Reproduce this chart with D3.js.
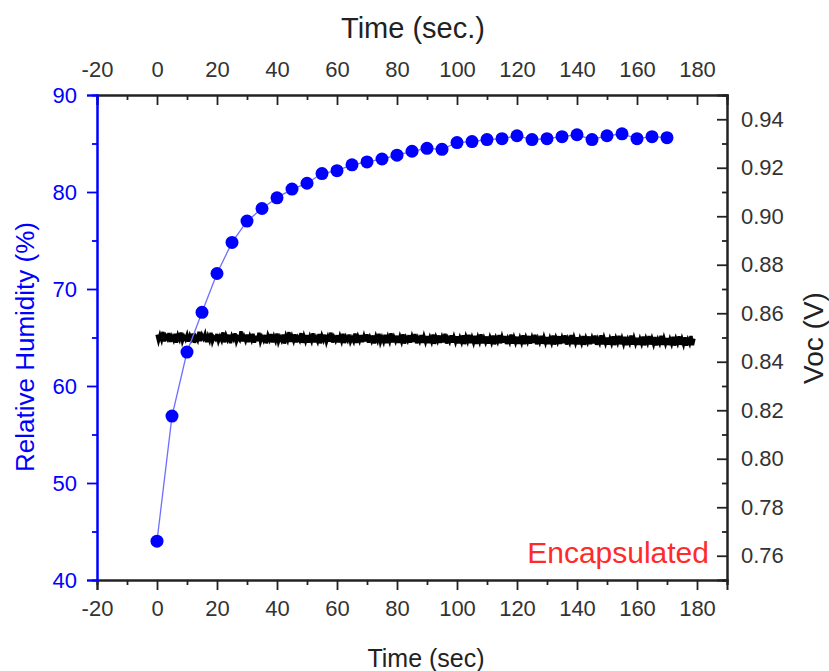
<!DOCTYPE html>
<html>
<head>
<meta charset="utf-8">
<script src="https://cdn.jsdelivr.net/npm/d3@7"></script>
<style>
  body { margin: 0; background: #fff; }
  text { font-family: "Liberation Sans", Arial, sans-serif; }
</style>
</head>
<body>
<div id="mount"></div>
<script>
// humidity readings, one every 5 s
var rhTime = [0, 5, 10, 15, 20, 25, 30, 35, 40, 45, 50, 55, 60, 65, 70, 75, 80, 85,
  90, 95, 100, 105, 110, 115, 120, 125, 130, 135, 140, 145, 150, 155, 160, 165, 170];
var rhValue = [44.0, 56.9, 63.5, 67.6, 71.6, 74.8, 77.0, 78.3, 79.4, 80.3, 80.9, 81.9, 82.2,
  82.8, 83.1, 83.4, 83.8, 84.2, 84.5, 84.4, 85.1, 85.2, 85.4, 85.5, 85.8, 85.4, 85.5, 85.7,
  85.9, 85.4, 85.8, 86.0, 85.5, 85.7, 85.6];

// open-circuit voltage trace (mV), sampled every 0.5 s from t = 0
var vocStep = 0.5;
var vocMv = [
  851.2, 848.7, 850.9, 849.1, 852.3, 848.4, 850.6, 849.5, 851.8, 848.2, 850.3, 849.0, 851.5, 847.9, 850.8, 849.3, 852.0, 848.6, 850.4, 849.2,
  851.0, 848.3, 850.7, 849.4, 851.6, 847.8, 850.2, 849.0, 852.4, 848.5, 850.9, 849.6, 851.3, 848.1, 850.5, 848.9, 851.9, 848.4, 850.1, 849.3,
  851.4, 848.6, 850.3, 848.9, 852.1, 848.0, 850.8, 849.2, 851.1, 847.7, 850.6, 849.4, 851.7, 848.3, 850.0, 849.1, 852.6, 848.5, 850.4, 848.8,
  851.2, 848.1, 850.5, 849.0, 851.5, 847.9, 850.7, 848.6, 851.9, 848.4, 850.2, 848.9, 851.0, 847.6, 850.8, 849.2, 851.4, 848.0, 850.3, 848.7,
  851.6, 848.3, 850.1, 848.8, 851.2, 847.5, 850.6, 849.0, 852.2, 848.2, 850.4, 848.7, 851.3, 848.0, 850.0, 848.9, 851.8, 847.8, 850.5, 848.6,
  851.0, 847.9, 850.3, 848.7, 851.7, 848.1, 849.9, 848.5, 851.4, 847.6, 850.6, 849.0, 851.1, 848.2, 850.2, 848.4, 852.0, 847.9, 850.1, 848.8,
  850.9, 848.0, 850.4, 848.6, 851.5, 847.7, 850.1, 848.9, 851.2, 848.3, 849.8, 848.5, 851.6, 847.8, 850.3, 848.7, 851.0, 848.1, 850.5, 848.4,
  851.3, 847.9, 850.0, 848.6, 850.8, 847.6, 850.4, 848.8, 851.5, 848.1, 849.9, 848.3, 851.1, 847.7, 850.2, 848.5, 851.7, 848.0, 850.1, 848.6,
  850.7, 847.8, 850.2, 848.4, 851.3, 847.5, 849.9, 848.7, 850.9, 847.9, 850.3, 848.2, 851.4, 847.6, 849.8, 848.5, 851.0, 847.8, 850.4, 848.3,
  850.6, 847.7, 849.9, 848.3, 851.2, 847.4, 850.1, 848.6, 850.8, 847.8, 850.0, 848.1, 851.5, 847.5, 849.7, 848.4, 850.9, 847.9, 850.2, 848.2,
  850.5, 847.6, 849.8, 848.2, 850.9, 847.3, 850.2, 848.5, 851.1, 847.7, 849.9, 848.0, 850.7, 847.4, 850.0, 848.3, 851.3, 847.6, 849.7, 848.1,
  850.4, 847.5, 849.9, 848.1, 850.8, 847.2, 849.8, 848.4, 851.0, 847.6, 850.1, 847.9, 850.6, 847.3, 849.6, 848.2, 851.2, 847.5, 849.9, 848.0,
  850.3, 847.4, 849.7, 848.0, 850.9, 847.3, 849.9, 848.3, 850.6, 847.5, 849.8, 847.8, 851.1, 847.2, 849.5, 848.1, 850.7, 847.4, 850.0, 847.9,
  850.2, 847.3, 849.6, 847.9, 850.8, 847.1, 849.8, 848.2, 850.5, 847.4, 849.7, 847.7, 850.9, 847.1, 849.4, 848.0, 851.0, 847.3, 849.9, 847.8,
  850.1, 847.2, 849.5, 847.8, 850.6, 847.0, 849.7, 848.1, 850.4, 847.3, 849.6, 847.6, 850.8, 847.0, 849.3, 847.9, 850.9, 847.2, 849.8, 847.7,
  850.0, 847.1, 849.4, 847.7, 850.5, 846.9, 849.6, 848.0, 850.7, 847.2, 849.5, 847.5, 850.3, 846.9, 849.2, 847.8, 850.8, 847.1, 849.7, 847.6,
  849.9, 847.0, 849.3, 847.6, 850.4, 846.8, 849.5, 847.9, 850.6, 847.1, 849.4, 847.4, 850.2, 846.8, 849.1, 847.7, 850.7, 847.0, 849.6, 847.5,
  849.8, 846.9, 849.2, 847.5, 850.3, 846.7, 849.4, 847.8, 850.5, 847.0, 849.3, 847.3, 850.1, 846.7, 849.0, 847.6, 850.6, 846.9, 849.5
];

// axis ticks
var timeTicks = [-20, 0, 20, 40, 60, 80, 100, 120, 140, 160, 180];
var timeMinor = [-10, 10, 30, 50, 70, 90, 110, 130, 150, 170, 190];
var rhTicks = [40, 50, 60, 70, 80, 90];
var rhMinor = [45, 55, 65, 75, 85];
var vocTicks = [0.76, 0.78, 0.80, 0.82, 0.84, 0.86, 0.88, 0.90, 0.92, 0.94];
var vocMinor = [0.75, 0.77, 0.79, 0.81, 0.83, 0.85, 0.87, 0.89, 0.91, 0.93, 0.95];

var margin = { top: 95, right: 102, bottom: 91, left: 97 };
var width = 829 - margin.left - margin.right,
    height = 671 - margin.top - margin.bottom;

var blue = '#0000ff', dark = '#222';

var svg = d3.select('#mount').append('svg')
    .attr('width', 829)
    .attr('height', 671);

var graph = svg.append('g')
    .attr('transform', `translate(${margin.left},${margin.top})`);

var x = d3.scaleLinear().domain([-20, 190]).range([0, width]);
var yRh = d3.scaleLinear().domain([40, 90]).range([height, 0]);
var yVoc = d3.scaleLinear().domain([0.75, 0.95]).range([height, 0]);

// helper: major + minor ticks with the same orientation
function drawAxis(axisFn, scale, major, minor, fmt, color, transform, inward, pad) {
  var sign = inward ? -1 : 1;
  var g = graph.append('g').attr('transform', transform);
  g.call(axisFn(scale).tickValues(minor).tickSize(5 * sign).tickFormat(''));
  var m = graph.append('g').attr('transform', transform);
  m.call(axisFn(scale).tickValues(major).tickSize(10 * sign).tickPadding(pad).tickFormat(fmt));
  [g, m].forEach(s => {
    s.select('.domain').attr('stroke', color).attr('stroke-width', 2);
    s.selectAll('.tick line').attr('stroke', color).attr('stroke-width', 1.8);
    s.selectAll('.tick text').attr('fill', color === blue ? blue : '#333')
      .style('font-size', '22px').style('font-family', '"Liberation Sans", Arial, sans-serif');
  });
  return m;
}

// plain hyphen for negatives, like the original
var fmtInt = d => String(d);
drawAxis(d3.axisBottom, x, timeTicks, timeMinor, fmtInt, dark, `translate(0,${height})`, false, 10);
drawAxis(d3.axisTop, x, timeTicks, timeMinor, fmtInt, dark, 'translate(0,0)', true, 18);
drawAxis(d3.axisRight, yVoc, vocTicks, vocMinor, d3.format('.2f'), dark, `translate(${width},0)`, true, 14);
drawAxis(d3.axisLeft, yRh, rhTicks, rhMinor, fmtInt, blue, 'translate(0,0)', false, 10);

// voc trace
var vocLine = d3.line()
    .x((d, i) => x(i * vocStep))
    .y(d => yVoc(d / 1000));
graph.append('path')
    .datum(vocMv)
    .attr('fill', 'none')
    .attr('stroke', '#000')
    .attr('stroke-width', 3.4)
    .attr('d', vocLine);

// humidity
var rhData = rhTime.map((t, i) => ({ t: t, v: rhValue[i] }));
graph.append('path')
    .datum(rhData)
    .attr('fill', 'none')
    .attr('stroke', '#6f6fff')
    .attr('stroke-width', 1.3)
    .attr('d', d3.line().x(d => x(d.t)).y(d => yRh(d.v)));
graph.selectAll('.point')
    .data(rhData)
  .enter().append('circle')
    .attr('class', 'point')
    .attr('r', 6.5)
    .attr('cx', d => x(d.t))
    .attr('cy', d => yRh(d.v))
    .style('fill', blue);

// titles
svg.append('text').attr('x', 413).attr('y', 38).attr('text-anchor', 'middle')
    .style('font-size', '29px').attr('fill', '#222').text('Time (sec.)');
svg.append('text').attr('x', 426).attr('y', 667).attr('text-anchor', 'middle')
    .style('font-size', '25px').attr('fill', '#222').text('Time (sec)');
svg.append('text').attr('transform', 'translate(34,347) rotate(-90)').attr('text-anchor', 'middle')
    .style('font-size', '26px').attr('fill', blue).text('Relative Humidity (%)');
svg.append('text').attr('transform', 'translate(823,338) rotate(-90)').attr('text-anchor', 'middle')
    .style('font-size', '28px').attr('fill', '#222').text('Voc (V)');
svg.append('text').attr('x', 709).attr('y', 563).attr('text-anchor', 'end')
    .style('font-size', '30px').attr('fill', '#ff2a2a').text('Encapsulated');
</script>
</body>
</html>
